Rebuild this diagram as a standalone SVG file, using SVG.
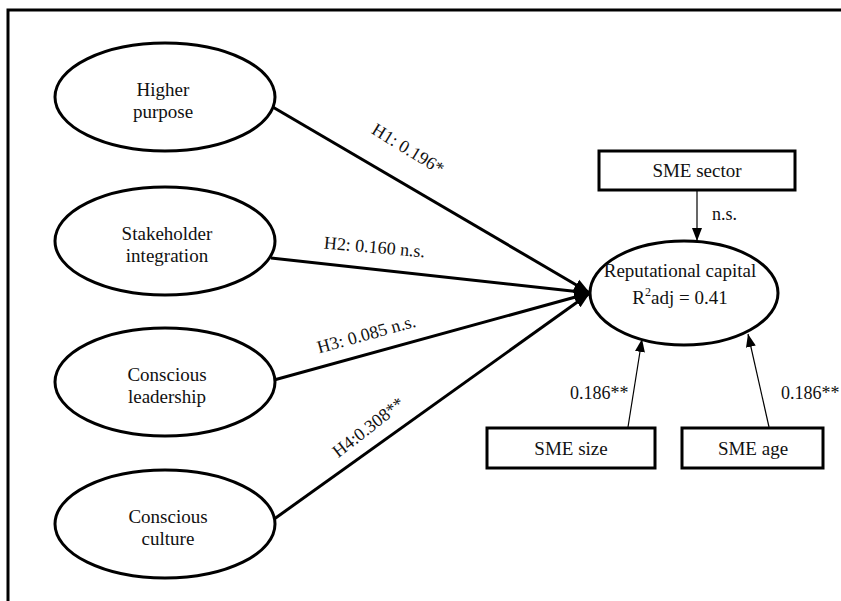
<svg xmlns="http://www.w3.org/2000/svg" width="841" height="601" viewBox="0 0 841 601">
<style>
text{font-family:"Liberation Serif","Times New Roman",serif;font-size:18px;fill:#111;}
.mid{text-anchor:middle;}
.nt{font-size:19px;}
.node{fill:#fff;stroke:#000;stroke-width:3;}
.box{fill:#fff;stroke:#000;stroke-width:3;}
.thick{stroke:#000;stroke-width:3;fill:none;}
.thin{stroke:#000;stroke-width:1.2;fill:none;}
</style>
<defs>
<marker id="ah" markerUnits="userSpaceOnUse" markerWidth="18" markerHeight="14" refX="16" refY="7" orient="auto">
<path d="M0,1 L16,7 L0,13 Z" fill="#000"/>
</marker>
<marker id="ahs" markerUnits="userSpaceOnUse" markerWidth="14" markerHeight="12" refX="13" refY="6" orient="auto">
<path d="M0,1 L13,6 L0,11 Z" fill="#000"/>
</marker>
</defs>
<rect x="0" y="0" width="841" height="601" fill="#fff"/>
<path d="M8,601 V10 H841" fill="none" stroke="#000" stroke-width="3"/>

<g id="connectors">
<line class="thick" x1="271" y1="106" x2="590" y2="293" marker-end="url(#ah)"/>
<line class="thick" x1="271" y1="258" x2="590" y2="293" marker-end="url(#ah)"/>
<line class="thick" x1="274" y1="380" x2="590" y2="293" marker-end="url(#ah)"/>
<line class="thick" x1="270" y1="522" x2="590" y2="293" marker-end="url(#ah)"/>
<line class="thin" x1="697" y1="190" x2="697" y2="241" marker-end="url(#ahs)"/>
<line class="thin" x1="628" y1="427" x2="642" y2="339" marker-end="url(#ahs)"/>
<line class="thin" x1="769" y1="427" x2="748" y2="334" marker-end="url(#ahs)"/>
<text class="mid" transform="translate(405,154) rotate(31.5)">H1:  0.196*</text>
<text class="mid" transform="translate(374,253) rotate(5)">H2: 0.160 n.s.</text>
<text class="mid" transform="translate(368,340) rotate(-15.5)">H3: 0.085 n.s.</text>
<text class="mid" transform="translate(372,432) rotate(-38)">H4:0.308**</text>
<text x="712" y="220">n.s.</text>
<text x="570" y="399">0.186**</text>
<text x="781" y="399">0.186**</text>
</g>

<g id="higher-purpose">
<ellipse class="node" cx="165" cy="97" rx="110" ry="54"/>
<text class="mid nt" x="163" y="96">Higher</text>
<text class="mid nt" x="163" y="118">purpose</text>
</g>
<g id="stakeholder-integration">
<ellipse class="node" cx="165" cy="241" rx="110" ry="54"/>
<text class="mid nt" x="167" y="240">Stakeholder</text>
<text class="mid nt" x="167" y="262">integration</text>
</g>
<g id="conscious-leadership">
<ellipse class="node" cx="165" cy="382" rx="110" ry="54"/>
<text class="mid nt" x="167" y="381">Conscious</text>
<text class="mid nt" x="167" y="403">leadership</text>
</g>
<g id="conscious-culture">
<ellipse class="node" cx="165" cy="524" rx="110" ry="54"/>
<text class="mid nt" x="168" y="523">Conscious</text>
<text class="mid nt" x="168" y="545">culture</text>
</g>
<g id="reputational-capital">
<ellipse class="node" cx="684" cy="293" rx="94" ry="52"/>
<text class="mid nt" x="680" y="277">Reputational capital</text>
<text class="mid nt" x="680" y="304">R<tspan dy="-8" font-size="12">2</tspan><tspan dy="8">adj = 0.41</tspan></text>
</g>
<g id="sme-sector">
<rect class="box" x="599" y="151" width="196" height="39"/>
<text class="mid nt" x="697" y="177">SME sector</text>
</g>
<g id="sme-size">
<rect class="box" x="487" y="428" width="168" height="40"/>
<text class="mid nt" x="571" y="455">SME size</text>
</g>
<g id="sme-age">
<rect class="box" x="682" y="428" width="141" height="40"/>
<text class="mid nt" x="753" y="455">SME age</text>
</g>
</svg>
